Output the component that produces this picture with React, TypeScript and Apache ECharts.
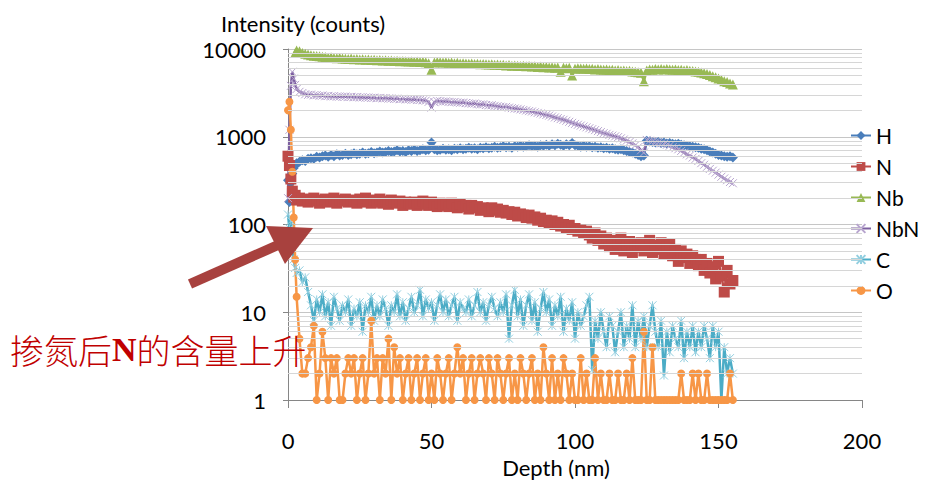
import React, { useEffect, useRef } from "react";
import * as echarts from "echarts";

// Sputter depth (nm) for every profile sample
const depth = [
  0, 0.5, 1, 1.5, 2, 2.5,
  3, 4, 5, 6, 7, 8, 9, 10, 11, 12,
  13, 14, 15, 16, 17, 18, 19, 20, 21, 22,
  23, 24, 25, 26, 27, 28, 29, 30, 31, 32,
  33, 34, 35, 36, 37, 38, 39, 40, 41, 42,
  43, 44, 45, 46, 47, 48, 49, 50, 51, 52,
  53, 54, 55, 56, 57, 58, 59, 60, 61, 62,
  63, 64, 65, 66, 67, 68, 69, 70, 71, 72,
  73, 74, 75, 76, 77, 78, 79, 80, 81, 82,
  83, 84, 85, 86, 87, 88, 89, 90, 91, 92,
  93, 94, 95, 96, 97, 98, 99, 100, 101, 102,
  103, 104, 105, 106, 107, 108, 109, 110, 111, 112,
  113, 114, 115, 116, 117, 118, 119, 120, 121, 122,
  123, 124, 125, 126, 127, 128, 129, 130, 131, 132,
  133, 134, 135, 136, 137, 138, 139, 140, 141, 142,
  143, 144, 145, 146, 147, 148, 149, 150, 151, 152,
  153, 154, 155,
];

const hCounts = [
  320, 180, 300, 380, 440, 470,
  500, 520, 540, 530, 560, 570, 560, 590, 580, 600,
  610, 590, 620, 600, 630, 610, 620, 640, 620, 630,
  650, 630, 640, 660, 640, 650, 670, 650, 660, 680,
  660, 670, 690, 670, 680, 700, 680, 690, 670, 700,
  690, 710, 690, 700, 720, 700, 710, 860, 720, 700,
  710, 730, 710, 720, 700, 730, 720, 740, 720, 730,
  750, 730, 740, 720, 750, 740, 760, 740, 750, 770,
  750, 760, 780, 760, 770, 750, 780, 770, 790, 770,
  780, 800, 780, 790, 770, 800, 790, 810, 790, 820,
  800, 830, 810, 790, 820, 800, 850, 800, 790, 770,
  790, 770, 780, 760, 770, 750, 760, 740, 750, 730,
  740, 720, 710, 720, 700, 690, 670, 660, 640, 620,
  600, 610, 900, 880, 870, 860, 870, 850, 860, 840,
  850, 830, 820, 830, 810, 800, 790, 780, 770, 760,
  750, 730, 720, 700, 680, 660, 640, 620, 610, 600,
  590, 600, 580,
];

const nCounts = [
  600, 470, 330, 240, 205, 215,
  190, 200, 185, 195, 180, 190, 200, 185, 175, 190,
  195, 180, 185, 200, 175, 190, 185, 195, 180, 190,
  185, 175, 195, 180, 200, 185, 175, 190, 180, 195,
  175, 185, 170, 190, 180, 175, 185, 165, 180, 175,
  170, 180, 165, 175, 185, 170, 165, 180, 170, 160,
  175, 165, 170, 160, 175, 165, 155, 170, 160, 165,
  150, 165, 155, 160, 145, 155, 150, 140, 155, 145,
  150, 138, 145, 135, 140, 130, 138, 125, 132, 128,
  120, 128, 118, 122, 112, 118, 108, 112, 104, 110,
  100, 106, 96, 100, 92, 98, 88, 90, 84, 86,
  80, 84, 76, 70, 80, 66, 74, 60, 70, 56,
  66, 52, 62, 70, 50, 58, 64, 48, 60, 55,
  62, 50, 56, 66, 48, 58, 52, 62, 46, 55,
  60, 44, 52, 38, 50, 42, 46, 36, 44, 40,
  34, 40, 30, 36, 28, 33, 24, 38, 26, 17,
  30, 21, 23,
];

const nbCounts = [
  null, null, null, null, null, 9000,
  9600, 9400, 9000, 8800, 8650, 8500, 8400, 8300, 8250, 8150,
  8100, 7950, 8050, 7900, 7850, 7950, 7800, 7750, 7700, 7800,
  7650, 7700, 7600, 7650, 7550, 7600, 7500, 7550, 7450, 7500,
  7400, 7450, 7350, 7400, 7300, 7350, 7250, 7300, 7250, 7200,
  7250, 7150, 7200, 7100, 7150, 7050, 6900, 5800, 7000, 7100,
  7050, 7000, 7050, 6950, 7000, 6900, 6950, 6850, 6900, 6850,
  6800, 6850, 6750, 6800, 6700, 6750, 6700, 6650, 6700, 6600,
  6650, 6550, 6600, 6500, 6550, 6450, 6500, 6450, 6400, 6450,
  6350, 6400, 6300, 6350, 6250, 6300, 6200, 6250, 6150, 6200,
  6100, 6150, 5500, 6100, 6050, 6100, 5000, 5950, 6050, 6000,
  5950, 6000, 5900, 5950, 5850, 5900, 5850, 5800, 5850, 5750,
  5800, 5700, 5750, 5650, 5700, 5600, 5650, 5550, 5500, 5450,
  5350, 4300, 5700, 5850, 5800, 5900, 5850, 5900, 5850, 5900,
  5850, 5800, 5850, 5750, 5800, 5700, 5750, 5650, 5600, 5550,
  5500, 5400, 5300, 5200, 5050, 4900, 4750, 4600, 4450, 4300,
  4200, 4050, 3950,
];

const nbnCounts = [
  200, 1200, 3800, 5500, 4600, 3900,
  3500, 3250, 3150, 3050, 3000, 3020, 2960, 2980, 2930, 2950,
  2900, 2920, 2880, 2900, 2860, 2880, 2850, 2870, 2830, 2850,
  2820, 2840, 2800, 2820, 2790, 2800, 2770, 2790, 2750, 2770,
  2740, 2760, 2720, 2730, 2700, 2720, 2680, 2700, 2660, 2680,
  2640, 2660, 2620, 2630, 2600, 2580, 2500, 2150, 2480, 2560,
  2540, 2520, 2530, 2500, 2480, 2490, 2460, 2440, 2450, 2420,
  2400, 2380, 2390, 2350, 2330, 2340, 2300, 2280, 2290, 2250,
  2230, 2200, 2180, 2190, 2150, 2120, 2100, 2080, 2050, 2020,
  1990, 1960, 1940, 1900, 1870, 1840, 1800, 1770, 1740, 1700,
  1660, 1630, 1590, 1560, 1520, 1480, 1440, 1400, 1370, 1340,
  1310, 1280, 1250, 1220, 1190, 1160, 1130, 1100, 1080, 1050,
  1030, 1010, 990, 960, 930, 900, 870, 840, 800, 760,
  700, 660, 920, 900, 890, 870, 860, 840, 830, 810,
  790, 760, 740, 720, 690, 660, 630, 610, 580, 560,
  530, 500, 480, 455, 430, 410, 390, 370, 350, 335,
  320, 305, 295,
];

const cCounts = [
  130, 90, 110, 60, 40, 32,
  28, 30, 22, 25, 17, 12, 8, 14, 10, 16,
  9, 13, 7, 15, 11, 8, 12, 10, 14, 7,
  11, 9, 13, 6, 12, 10, 15, 8, 12, 9,
  14, 11, 7, 12, 10, 16, 9, 13, 8, 11,
  15, 10, 12, 18, 9, 14, 11, 13, 8, 12,
  16, 10, 14, 9, 12, 15, 8, 13, 11, 10,
  14, 9, 12, 17, 10, 13, 8, 12, 15, 11,
  9, 13, 10, 16, 5, 12, 18, 9, 14, 7,
  12, 16, 8, 13, 6, 11, 17, 10, 14, 7,
  12, 9, 15, 6, 11, 8, 13, 5, 10, 7,
  9, 12, 15, 2.2, 8, 5, 10, 6, 4, 9,
  7, 3.5, 6, 10, 4, 7, 5, 12, 4, 8,
  5, 9, 4, 7, 12, 6, 4, 8, 1.9, 6,
  3.5, 7, 5, 4, 8, 3, 6, 4, 7, 3.5,
  6, 4, 7, 5, 3, 7, 4, 6, 1, 4,
  2, 3, 2,
];

const oCounts = [
  2000, 2500, 1200, 400, 120, 40,
  15, 5, 2, 2, 3, 4, 7, 1, 2, 6,
  3, 1, 3, 2, 3, 1, 1, 2, 3, 2,
  3, 1, 2, 3, 1, 2, 8, 2, 3, 1,
  3, 2, 5, 1, 4, 2, 3, 1, 2, 3,
  1, 2, 3, 1, 2, 3, 1, 2, 1, 3,
  2, 1, 2, 3, 1, 2, 4, 2, 3, 1,
  2, 3, 1, 2, 3, 2, 1, 3, 2, 1,
  3, 2, 1, 2, 3, 1, 2, 1, 3, 2,
  1, 2, 3, 1, 2, 1, 4, 2, 1, 3,
  1, 2, 1, 3, 2, 1, 2, 1, 1, 3,
  1, 2, 1, 1, 3, 1, 2, 1, 1, 2,
  1, 1, 2, 1, 1, 2, 1, 3, 1, 1,
  1, 6, 1, 1, 4, 1, 1, 1, 1, 1,
  1, 1, 1, 1, 2, 1, 1, 1, 2, 1,
  2, 1, 1, 2, 1, 1, 1, 1, 1, 1,
  1, 2, 1,
];

const seriesNames = ["H", "N", "Nb", "NbN", "C", "O"];
const yTicks = [1, 10, 100, 1000, 10000];
const xTicks = [0, 50, 100, 150, 200];

// minor log gridlines: 2..9 within each decade
const minorGrid = [2, 3, 4, 5, 6, 7, 8, 9, 20, 30, 40, 50, 60, 70, 80, 90,
  200, 300, 400, 500, 600, 700, 800, 900, 2000, 3000, 4000, 5000, 6000, 7000, 8000, 9000];

const FONT = "Lato, 'Open Sans', sans-serif";
const X_PATH = "path://M0,0L10,10M10,0L0,10";
const STAR_PATH = "path://M0,0L10,10M10,0L0,10M5,0L5,10";

const pairs = (vals: (number | null)[]) =>
  depth.map((d, i) => [d, vals[i] == null ? "-" : vals[i]]);

export default function App() {
  const ref = useRef<HTMLDivElement>(null);

  useEffect(() => {
    if (!ref.current) return;
    const chart = echarts.init(ref.current, undefined, { renderer: "svg" });

    const mk = (
      name: string,
      vals: (number | null)[],
      line: string,
      symbol: string,
      size: number,
      fill: string,
      border?: string
    ) => ({
      name,
      type: "line",
      data: pairs(vals),
      symbol,
      symbolSize: size,
      showAllSymbol: true,
      lineStyle: { color: line, width: 2.5 },
      itemStyle: border
        ? { color: fill, borderColor: border, borderWidth: 1 }
        : { color: fill },
      emphasis: { disabled: true },
      z: 3,
    });

    chart.setOption({
      animation: false,
      textStyle: { fontFamily: FONT },
      grid: { left: 288, right: 70, top: 49, bottom: 82, containLabel: false },
      xAxis: {
        type: "value",
        min: xTicks[0],
        max: xTicks[xTicks.length - 1],
        interval: 50,
        name: "Depth (nm)",
        nameLocation: "middle",
        nameGap: 56,
        nameTextStyle: { fontSize: 22, color: "#000", fontFamily: FONT, padding: [0, 38, 0, 0] },
        axisLine: { lineStyle: { color: "#868686", width: 1 } },
        axisTick: { show: true, length: 8, lineStyle: { color: "#868686" } },
        axisLabel: { fontSize: 22, color: "#000", margin: 29, fontFamily: FONT },
        splitLine: { show: false },
      },
      yAxis: {
        type: "log",
        logBase: 10,
        min: yTicks[0],
        max: yTicks[yTicks.length - 1],
        name: "Intensity (counts)",
        nameLocation: "end",
        nameGap: 15,
        nameTextStyle: { fontSize: 22, color: "#000", fontFamily: FONT, padding: [0, 0, 0, 30] },
        axisLine: { show: true, lineStyle: { color: "#868686", width: 1 } },
        axisTick: { show: true, length: 5, lineStyle: { color: "#868686" } },
        axisLabel: {
          fontSize: 22,
          color: "#000",
          margin: 22,
          fontFamily: FONT,
          formatter: (v: number) => String(Math.round(v)),
        },
        splitLine: { show: true, lineStyle: { color: "#c6c6c6", width: 1 } },
      },
      legend: {
        data: seriesNames,
        orient: "vertical",
        left: 845,
        top: 120,
        itemWidth: 20,
        itemHeight: 11,
        itemGap: 10,
        textStyle: { fontSize: 21, color: "#000", fontFamily: FONT },
      },
      series: [
        {
          name: "grid-minor",
          type: "line",
          data: [],
          silent: true,
          z: 1,
          markLine: {
            silent: true,
            symbol: ["none", "none"],
            label: { show: false },
            lineStyle: { color: "#d6d6d6", width: 1, type: "solid" },
            emphasis: { disabled: true },
            data: minorGrid.map((v) => ({ yAxis: v })),
          },
        },
        mk("H", hCounts, "#4a7ebb", "diamond", 10, "#4a7ebb"),
        mk("N", nCounts, "#be4b48", "rect", 11, "#be4b48"),
        mk("Nb", nbCounts, "#98b954", "triangle", 10, "#98b954"),
        mk("NbN", nbnCounts, "#7d60a0", X_PATH, 8, "none", "#b8a5cf"),
        mk("C", cCounts, "#4bacc6", STAR_PATH, 8, "none", "#93cfe0"),
        mk("O", oCounts, "#f79646", "circle", 8, "#f79646"),
      ],
      graphic: [
        {
          type: "line",
          silent: true,
          shape: { x1: 190, y1: 284, x2: 278, y2: 245 },
          style: { stroke: "#a8413e", lineWidth: 10, lineCap: "butt" },
          z: 100,
        },
        {
          type: "polygon",
          silent: true,
          shape: { points: [[313, 228], [266, 226], [285, 264]] },
          style: { fill: "#a8413e" },
          z: 100,
        },
        {
          type: "text",
          silent: true,
          x: 10,
          y: 349,
          style: {
            text: "{a|掺氮后}{b|N}{a|的含量上升}",
            verticalAlign: "middle",
            fill: "#c00000",
            rich: {
              a: { fontSize: 34, fontFamily: "'Noto Sans CJK SC'", color: "#c00000", fontWeight: 300 },
              b: { fontSize: 34, fontFamily: "'Liberation Serif', serif", color: "#c00000", fontWeight: "bold" },
            },
          },
          z: 100,
        },
      ],
    });

    return () => chart.dispose();
  }, []);

  return (
    <div
      ref={ref}
      style={{ position: "fixed", left: 0, top: 0, width: 932, height: 483, background: "#fff" }}
    />
  );
}
